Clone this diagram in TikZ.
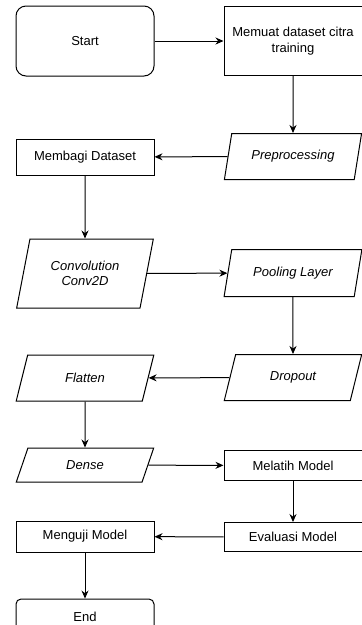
\documentclass[tikz,border=0pt]{standalone}
\usepackage{fontspec}
\setmainfont{Liberation Sans}
\usetikzlibrary{positioning,arrows.meta,shapes.geometric}

\newcommand{\ukuranteks}{\fontsize{13pt}{15.5pt}\selectfont}
\tikzset{
  proses/.style={draw,line width=1pt,minimum width=138pt,align=center,font=\ukuranteks},
  dataio/.style={draw,line width=1pt,trapezium,trapezium left angle=74,trapezium right angle=106,
    trapezium stretches=true,minimum width=138pt,align=center,font=\ukuranteks\itshape},
  terminal/.style={draw,line width=1pt,minimum width=138pt,align=center,font=\ukuranteks},
  panah/.style={-{Stealth[length=8pt,width=7pt]},line width=1pt}
}

\begin{document}
\begin{tikzpicture}
\useasboundingbox (0,0) rectangle (362pt,-625pt);
% kolom kiri
\node[terminal,rounded corners=10pt,minimum height=70pt] (start) at (85pt,-41pt) {Start};
\node[proses,minimum height=36pt,below=62pt of start] (membagi) {Membagi Dataset};
\node[dataio,minimum height=69pt,below=63pt of membagi] (conv) {Convolution\\Conv2D};
\node[dataio,minimum height=46pt,below=46pt of conv] (flatten) {Flatten};
\node[dataio,minimum height=34pt,below=46pt of flatten] (dense) {Dense};
\node[proses,minimum height=31pt,below=38pt of dense] (menguji) {Menguji Model};
\node[terminal,rounded corners=5pt,minimum height=36pt,below=46pt of menguji] (end) {End};
% kolom kanan
\node[proses,minimum height=69pt,right=69pt of start] (memuat) {Memuat dataset citra\\training};
\node[dataio,minimum height=46pt,below=57pt of memuat] (prep) {Preprocessing};
\node[dataio,minimum height=47pt,below=69pt of prep] (pooling) {Pooling Layer};
\node[dataio,minimum height=46pt,below=57pt of pooling] (dropout) {Dropout};
\node[proses,minimum height=30pt,below=49pt of dropout] (melatih) {Melatih Model};
\node[proses,minimum height=29pt,below=41pt of melatih] (evaluasi) {Evaluasi Model};

\draw[panah] (start) -- (memuat);
\draw[panah] (memuat) -- (prep);
\draw[panah] (prep) -- (membagi);
\draw[panah] (membagi) -- (conv);
\draw[panah] (conv) -- (pooling);
\draw[panah] (pooling) -- (dropout);
\draw[panah] (dropout) -- (flatten);
\draw[panah] (flatten) -- (dense);
\draw[panah] (dense) -- (melatih);
\draw[panah] (melatih) -- (evaluasi);
\draw[panah] (evaluasi) -- (menguji);
\draw[panah] (menguji) -- (end);
\end{tikzpicture}
\end{document}
